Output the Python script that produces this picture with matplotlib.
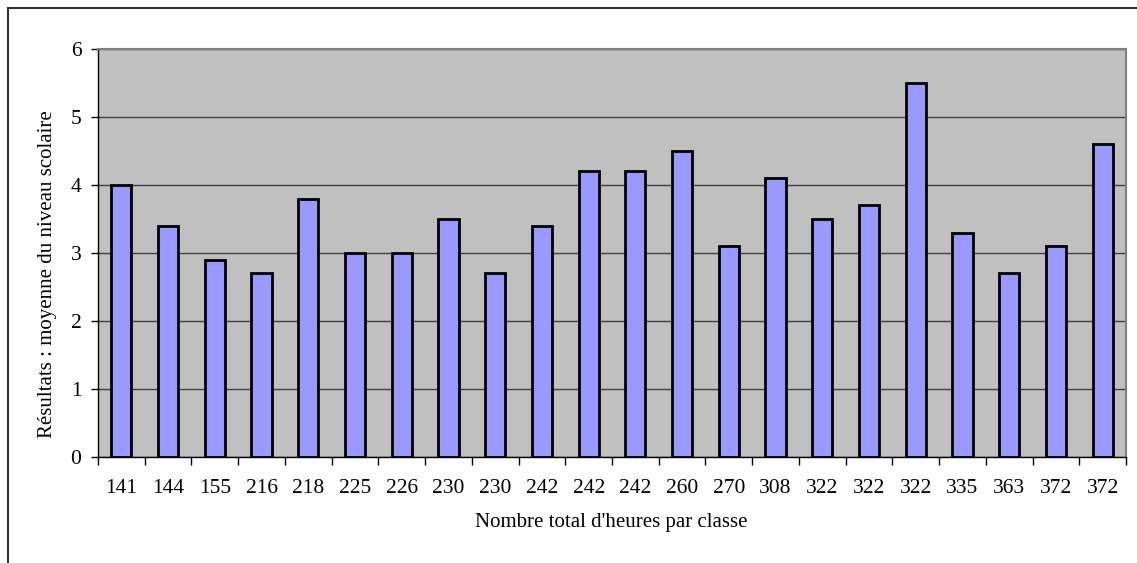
import matplotlib
matplotlib.use("Agg")
import matplotlib.pyplot as plt
from matplotlib.patches import Rectangle
import numpy as np

heures = ["141", "144", "155", "216", "218", "225", "226", "230", "230", "242", "242",
          "242", "260", "270", "308", "322", "322", "322", "335", "363", "372", "372"]
moyenne = [4.0, 3.4, 2.9, 2.7, 3.8, 3.0, 3.0, 3.5, 2.7, 3.4, 4.2,
           4.2, 4.5, 3.1, 4.1, 3.5, 3.7, 5.5, 3.3, 2.7, 3.1, 4.6]

plt.rcParams['font.family'] = ['Liberation Serif', 'DejaVu Serif']

W, H = 1137, 563
fig = plt.figure(figsize=(W / 100, H / 100), dpi=100)
ax = fig.add_axes([98 / W, 1 - 457 / H, (1126 - 98) / W, (457 - 49) / H])
ax.set_facecolor('#C0C0C0')

x = np.arange(len(heures))
ax.bar(x, moyenne, width=0.43, color='#9999FF', edgecolor='black', linewidth=2, zorder=3)

ax.set_xlim(-0.5, len(heures) - 0.5)
ax.set_ylim(0, 6)
ax.set_yticks(range(7))
ax.yaxis.grid(True, color='#404040', linewidth=1, zorder=0)
ax.set_xticks(x)
ax.set_xticklabels(heures)
ax.set_xticks(np.arange(len(heures) + 1) - 0.5, minor=True)
ax.tick_params(axis='x', which='major', length=0, pad=16, labelsize=15.5)
ax.tick_params(axis='x', which='minor', length=6, width=1, direction='out')
ax.tick_params(axis='y', length=5, width=1, direction='out', labelsize=15.5, pad=7)

for s in ['top', 'right']:
    ax.spines[s].set_color('#808080')
    ax.spines[s].set_linewidth(1.5)
for s in ['left', 'bottom']:
    ax.spines[s].set_color('black')
    ax.spines[s].set_linewidth(1)

fig.text(611 / W, 1 - 522 / H, "Nombre total d'heures par classe", fontsize=15,
         ha='center', va='center')
fig.text(48 / W, 1 - 274 / H, "Résultats : moyenne du niveau scolaire", fontsize=15,
         ha='center', va='center', rotation=90)

fig.patches.append(Rectangle((8 / W, -0.1), 1.2, 1 - 8 / H + 0.1, transform=fig.transFigure,
                             fill=False, edgecolor='#333333', linewidth=1.5))

fig.savefig("out.png", dpi=100)
